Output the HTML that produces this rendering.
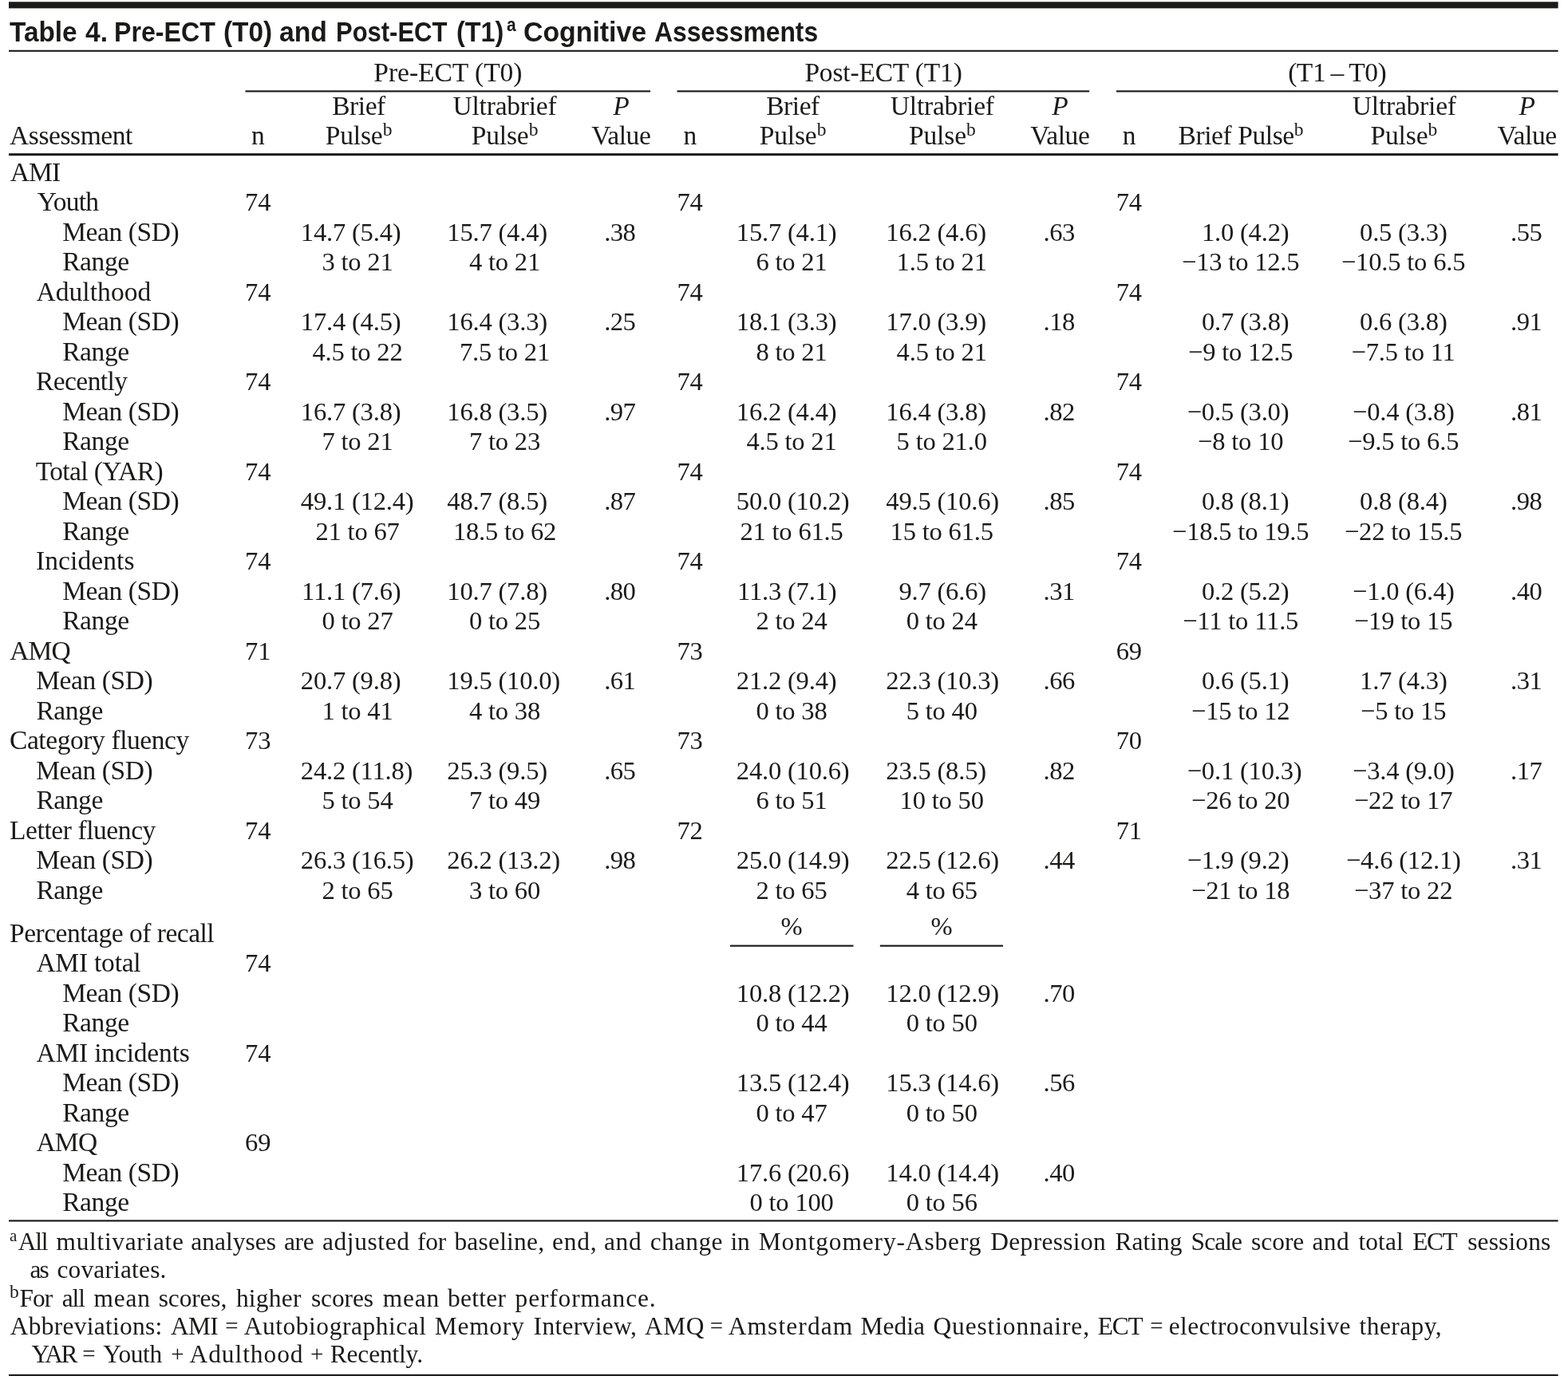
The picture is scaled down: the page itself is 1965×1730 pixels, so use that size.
<!DOCTYPE html>
<html lang="en"><head><meta charset="utf-8"><title>Table 4. Pre-ECT (T0) and Post-ECT (T1) Cognitive Assessments</title>
<style>
html,body{margin:0;padding:0;background:#fff}
body{width:1965px;height:1730px;position:relative;overflow:hidden;color:#1b1a19;
 font-family:"Liberation Serif","DejaVu Serif",serif;font-size:32.6px}
.t{position:absolute;white-space:nowrap;line-height:40px;height:40px}
.t sup{font-size:23.5px;line-height:0;vertical-align:baseline;position:relative;top:-11px;letter-spacing:0}
.f{font-size:31.4px;width:1965px;line-height:41px;height:41px}
.f span{position:absolute;top:0}
.fs{font-size:22px}
.x{font-size:33.5px}
svg.r{position:absolute;left:0;top:0}
.title{position:absolute;left:0;top:0;font-family:"Liberation Sans","DejaVu Sans",sans-serif;font-weight:bold}
.tw{position:absolute;white-space:nowrap;line-height:44px;height:44px;transform-origin:0 0;display:block}
</style></head>
<body>
<svg class="r" width="1965" height="1730" viewBox="0 0 1965 1730" fill="#1b1a19"><rect x="915.0" y="1184.62" width="154.5" height="2.15"/><rect x="1102.8" y="1184.62" width="154.2" height="2.15"/><rect x="11.0" y="2.30" width="1941.6" height="8.10"/><rect x="11.0" y="62.75" width="1941.6" height="2.10"/><rect x="307.5" y="113.33" width="507.5" height="2.15"/><rect x="848.5" y="113.33" width="516.6" height="2.15"/><rect x="1399.0" y="113.33" width="553.6" height="2.15"/><rect x="11.0" y="192.20" width="1941.6" height="3.00"/><rect x="11.0" y="1529.33" width="1941.6" height="2.15"/><rect x="11.0" y="1722.83" width="1941.6" height="2.15"/></svg>
<div class="t x" style="left:12.8px;top:196px;letter-spacing:-0.92px">AMI</div>
<div class="t x" style="left:46.8px;top:233px;letter-spacing:-0.82px">Youth</div>
<div class="t" style="left:23.2px;width:600px;text-align:center;top:233px;letter-spacing:-0.20px">74</div>
<div class="t" style="left:564.6px;width:600px;text-align:center;top:233px;letter-spacing:-0.20px">74</div>
<div class="t" style="left:1114.8px;width:600px;text-align:center;top:233px;letter-spacing:-0.20px">74</div>
<div class="t x" style="left:78.2px;top:271px;letter-spacing:-0.42px">Mean (SD)</div>
<div class="t" style="left:376.8px;top:271px;letter-spacing:-0.20px">14.7 (5.4)</div>
<div class="t" style="left:560.3px;top:271px;letter-spacing:-0.20px">15.7 (4.4)</div>
<div class="t" style="left:922.8px;top:271px;letter-spacing:-0.20px">15.7 (4.1)</div>
<div class="t" style="left:1110.3px;top:271px;letter-spacing:-0.20px">16.2 (4.6)</div>
<div class="t" style="left:1505.9px;top:271px;letter-spacing:-0.20px">1.0 (4.2)</div>
<div class="t" style="left:1458.8px;width:600px;text-align:center;top:271px;letter-spacing:-0.20px">0.5 (3.3)</div>
<div class="t" style="left:757.2px;top:271px;letter-spacing:-0.50px">.38</div>
<div class="t" style="left:1307.6px;top:271px;letter-spacing:-0.50px">.63</div>
<div class="t" style="left:1893.0px;top:271px;letter-spacing:-0.50px">.55</div>
<div class="t x" style="left:78.2px;top:308px;letter-spacing:-0.42px">Range</div>
<div class="t" style="left:148.0px;width:600px;text-align:center;top:308px;letter-spacing:-0.20px">3 to 21</div>
<div class="t" style="left:332.5px;width:600px;text-align:center;top:308px;letter-spacing:-0.20px">4 to 21</div>
<div class="t" style="left:692.0px;width:600px;text-align:center;top:308px;letter-spacing:-0.20px">6 to 21</div>
<div class="t" style="left:880.2px;width:600px;text-align:center;top:308px;letter-spacing:-0.20px">1.5 to 21</div>
<div class="t" style="left:1254.7px;width:600px;text-align:center;top:308px;letter-spacing:-0.20px">−13 to 12.5</div>
<div class="t" style="left:1458.6px;width:600px;text-align:center;top:308px;letter-spacing:-0.20px">−10.5 to 6.5</div>
<div class="t x" style="left:45.4px;top:346px;letter-spacing:0.08px">Adulthood</div>
<div class="t" style="left:23.2px;width:600px;text-align:center;top:346px;letter-spacing:-0.20px">74</div>
<div class="t" style="left:564.6px;width:600px;text-align:center;top:346px;letter-spacing:-0.20px">74</div>
<div class="t" style="left:1114.8px;width:600px;text-align:center;top:346px;letter-spacing:-0.20px">74</div>
<div class="t x" style="left:78.2px;top:383px;letter-spacing:-0.42px">Mean (SD)</div>
<div class="t" style="left:376.8px;top:383px;letter-spacing:-0.20px">17.4 (4.5)</div>
<div class="t" style="left:560.3px;top:383px;letter-spacing:-0.20px">16.4 (3.3)</div>
<div class="t" style="left:922.8px;top:383px;letter-spacing:-0.20px">18.1 (3.3)</div>
<div class="t" style="left:1110.3px;top:383px;letter-spacing:-0.20px">17.0 (3.9)</div>
<div class="t" style="left:1505.9px;top:383px;letter-spacing:-0.20px">0.7 (3.8)</div>
<div class="t" style="left:1458.8px;width:600px;text-align:center;top:383px;letter-spacing:-0.20px">0.6 (3.8)</div>
<div class="t" style="left:757.2px;top:383px;letter-spacing:-0.50px">.25</div>
<div class="t" style="left:1307.6px;top:383px;letter-spacing:-0.50px">.18</div>
<div class="t" style="left:1893.0px;top:383px;letter-spacing:-0.50px">.91</div>
<div class="t x" style="left:78.2px;top:421px;letter-spacing:-0.42px">Range</div>
<div class="t" style="left:148.0px;width:600px;text-align:center;top:421px;letter-spacing:-0.20px">4.5 to 22</div>
<div class="t" style="left:332.5px;width:600px;text-align:center;top:421px;letter-spacing:-0.20px">7.5 to 21</div>
<div class="t" style="left:692.0px;width:600px;text-align:center;top:421px;letter-spacing:-0.20px">8 to 21</div>
<div class="t" style="left:880.2px;width:600px;text-align:center;top:421px;letter-spacing:-0.20px">4.5 to 21</div>
<div class="t" style="left:1254.7px;width:600px;text-align:center;top:421px;letter-spacing:-0.20px">−9 to 12.5</div>
<div class="t" style="left:1458.6px;width:600px;text-align:center;top:421px;letter-spacing:-0.20px">−7.5 to 11</div>
<div class="t x" style="left:45.0px;top:458px;letter-spacing:-0.57px">Recently</div>
<div class="t" style="left:23.2px;width:600px;text-align:center;top:458px;letter-spacing:-0.20px">74</div>
<div class="t" style="left:564.6px;width:600px;text-align:center;top:458px;letter-spacing:-0.20px">74</div>
<div class="t" style="left:1114.8px;width:600px;text-align:center;top:458px;letter-spacing:-0.20px">74</div>
<div class="t x" style="left:78.2px;top:496px;letter-spacing:-0.42px">Mean (SD)</div>
<div class="t" style="left:376.8px;top:496px;letter-spacing:-0.20px">16.7 (3.8)</div>
<div class="t" style="left:560.3px;top:496px;letter-spacing:-0.20px">16.8 (3.5)</div>
<div class="t" style="left:922.8px;top:496px;letter-spacing:-0.20px">16.2 (4.4)</div>
<div class="t" style="left:1110.3px;top:496px;letter-spacing:-0.20px">16.4 (3.8)</div>
<div class="t" style="left:1487.7px;top:496px;letter-spacing:-0.20px">−0.5 (3.0)</div>
<div class="t" style="left:1458.8px;width:600px;text-align:center;top:496px;letter-spacing:-0.20px">−0.4 (3.8)</div>
<div class="t" style="left:757.2px;top:496px;letter-spacing:-0.50px">.97</div>
<div class="t" style="left:1307.6px;top:496px;letter-spacing:-0.50px">.82</div>
<div class="t" style="left:1893.0px;top:496px;letter-spacing:-0.50px">.81</div>
<div class="t x" style="left:78.2px;top:533px;letter-spacing:-0.42px">Range</div>
<div class="t" style="left:148.0px;width:600px;text-align:center;top:533px;letter-spacing:-0.20px">7 to 21</div>
<div class="t" style="left:332.5px;width:600px;text-align:center;top:533px;letter-spacing:-0.20px">7 to 23</div>
<div class="t" style="left:692.0px;width:600px;text-align:center;top:533px;letter-spacing:-0.20px">4.5 to 21</div>
<div class="t" style="left:880.2px;width:600px;text-align:center;top:533px;letter-spacing:-0.20px">5 to 21.0</div>
<div class="t" style="left:1254.7px;width:600px;text-align:center;top:533px;letter-spacing:-0.20px">−8 to 10</div>
<div class="t" style="left:1458.6px;width:600px;text-align:center;top:533px;letter-spacing:-0.20px">−9.5 to 6.5</div>
<div class="t x" style="left:44.7px;top:571px;letter-spacing:-0.62px">Total (YAR)</div>
<div class="t" style="left:23.2px;width:600px;text-align:center;top:571px;letter-spacing:-0.20px">74</div>
<div class="t" style="left:564.6px;width:600px;text-align:center;top:571px;letter-spacing:-0.20px">74</div>
<div class="t" style="left:1114.8px;width:600px;text-align:center;top:571px;letter-spacing:-0.20px">74</div>
<div class="t x" style="left:78.2px;top:608px;letter-spacing:-0.42px">Mean (SD)</div>
<div class="t" style="left:376.8px;top:608px;letter-spacing:-0.20px">49.1 (12.4)</div>
<div class="t" style="left:560.3px;top:608px;letter-spacing:-0.20px">48.7 (8.5)</div>
<div class="t" style="left:922.8px;top:608px;letter-spacing:-0.20px">50.0 (10.2)</div>
<div class="t" style="left:1110.3px;top:608px;letter-spacing:-0.20px">49.5 (10.6)</div>
<div class="t" style="left:1505.9px;top:608px;letter-spacing:-0.20px">0.8 (8.1)</div>
<div class="t" style="left:1458.8px;width:600px;text-align:center;top:608px;letter-spacing:-0.20px">0.8 (8.4)</div>
<div class="t" style="left:757.2px;top:608px;letter-spacing:-0.50px">.87</div>
<div class="t" style="left:1307.6px;top:608px;letter-spacing:-0.50px">.85</div>
<div class="t" style="left:1893.0px;top:608px;letter-spacing:-0.50px">.98</div>
<div class="t x" style="left:78.2px;top:646px;letter-spacing:-0.42px">Range</div>
<div class="t" style="left:148.0px;width:600px;text-align:center;top:646px;letter-spacing:-0.20px">21 to 67</div>
<div class="t" style="left:332.5px;width:600px;text-align:center;top:646px;letter-spacing:-0.20px">18.5 to 62</div>
<div class="t" style="left:692.0px;width:600px;text-align:center;top:646px;letter-spacing:-0.20px">21 to 61.5</div>
<div class="t" style="left:880.2px;width:600px;text-align:center;top:646px;letter-spacing:-0.20px">15 to 61.5</div>
<div class="t" style="left:1254.7px;width:600px;text-align:center;top:646px;letter-spacing:-0.20px">−18.5 to 19.5</div>
<div class="t" style="left:1458.6px;width:600px;text-align:center;top:646px;letter-spacing:-0.20px">−22 to 15.5</div>
<div class="t x" style="left:45.0px;top:683px;letter-spacing:0.08px">Incidents</div>
<div class="t" style="left:23.2px;width:600px;text-align:center;top:683px;letter-spacing:-0.20px">74</div>
<div class="t" style="left:564.6px;width:600px;text-align:center;top:683px;letter-spacing:-0.20px">74</div>
<div class="t" style="left:1114.8px;width:600px;text-align:center;top:683px;letter-spacing:-0.20px">74</div>
<div class="t x" style="left:78.2px;top:721px;letter-spacing:-0.42px">Mean (SD)</div>
<div class="t" style="left:378.0px;top:721px;letter-spacing:-0.20px">11.1 (7.6)</div>
<div class="t" style="left:560.3px;top:721px;letter-spacing:-0.20px">10.7 (7.8)</div>
<div class="t" style="left:924.0px;top:721px;letter-spacing:-0.20px">11.3 (7.1)</div>
<div class="t" style="left:1126.4px;top:721px;letter-spacing:-0.20px">9.7 (6.6)</div>
<div class="t" style="left:1505.9px;top:721px;letter-spacing:-0.20px">0.2 (5.2)</div>
<div class="t" style="left:1458.8px;width:600px;text-align:center;top:721px;letter-spacing:-0.20px">−1.0 (6.4)</div>
<div class="t" style="left:757.2px;top:721px;letter-spacing:-0.50px">.80</div>
<div class="t" style="left:1307.6px;top:721px;letter-spacing:-0.50px">.31</div>
<div class="t" style="left:1893.0px;top:721px;letter-spacing:-0.50px">.40</div>
<div class="t x" style="left:78.2px;top:758px;letter-spacing:-0.42px">Range</div>
<div class="t" style="left:148.0px;width:600px;text-align:center;top:758px;letter-spacing:-0.20px">0 to 27</div>
<div class="t" style="left:332.5px;width:600px;text-align:center;top:758px;letter-spacing:-0.20px">0 to 25</div>
<div class="t" style="left:692.0px;width:600px;text-align:center;top:758px;letter-spacing:-0.20px">2 to 24</div>
<div class="t" style="left:880.2px;width:600px;text-align:center;top:758px;letter-spacing:-0.20px">0 to 24</div>
<div class="t" style="left:1254.7px;width:600px;text-align:center;top:758px;letter-spacing:-0.20px">−11 to 11.5</div>
<div class="t" style="left:1458.6px;width:600px;text-align:center;top:758px;letter-spacing:-0.20px">−19 to 15</div>
<div class="t x" style="left:12.3px;top:796px;letter-spacing:-0.92px">AMQ</div>
<div class="t" style="left:23.2px;width:600px;text-align:center;top:796px;letter-spacing:-0.20px">71</div>
<div class="t" style="left:564.6px;width:600px;text-align:center;top:796px;letter-spacing:-0.20px">73</div>
<div class="t" style="left:1114.8px;width:600px;text-align:center;top:796px;letter-spacing:-0.20px">69</div>
<div class="t x" style="left:45.2px;top:833px;letter-spacing:-0.42px">Mean (SD)</div>
<div class="t" style="left:376.8px;top:833px;letter-spacing:-0.20px">20.7 (9.8)</div>
<div class="t" style="left:560.3px;top:833px;letter-spacing:-0.20px">19.5 (10.0)</div>
<div class="t" style="left:922.8px;top:833px;letter-spacing:-0.20px">21.2 (9.4)</div>
<div class="t" style="left:1110.3px;top:833px;letter-spacing:-0.20px">22.3 (10.3)</div>
<div class="t" style="left:1505.9px;top:833px;letter-spacing:-0.20px">0.6 (5.1)</div>
<div class="t" style="left:1458.8px;width:600px;text-align:center;top:833px;letter-spacing:-0.20px">1.7 (4.3)</div>
<div class="t" style="left:757.2px;top:833px;letter-spacing:-0.50px">.61</div>
<div class="t" style="left:1307.6px;top:833px;letter-spacing:-0.50px">.66</div>
<div class="t" style="left:1893.0px;top:833px;letter-spacing:-0.50px">.31</div>
<div class="t x" style="left:45.4px;top:871px;letter-spacing:-0.42px">Range</div>
<div class="t" style="left:148.0px;width:600px;text-align:center;top:871px;letter-spacing:-0.20px">1 to 41</div>
<div class="t" style="left:332.5px;width:600px;text-align:center;top:871px;letter-spacing:-0.20px">4 to 38</div>
<div class="t" style="left:692.0px;width:600px;text-align:center;top:871px;letter-spacing:-0.20px">0 to 38</div>
<div class="t" style="left:880.2px;width:600px;text-align:center;top:871px;letter-spacing:-0.20px">5 to 40</div>
<div class="t" style="left:1254.7px;width:600px;text-align:center;top:871px;letter-spacing:-0.20px">−15 to 12</div>
<div class="t" style="left:1458.6px;width:600px;text-align:center;top:871px;letter-spacing:-0.20px">−5 to 15</div>
<div class="t x" style="left:12.0px;top:908px;letter-spacing:-0.42px">Category fluency</div>
<div class="t" style="left:23.2px;width:600px;text-align:center;top:908px;letter-spacing:-0.20px">73</div>
<div class="t" style="left:564.6px;width:600px;text-align:center;top:908px;letter-spacing:-0.20px">73</div>
<div class="t" style="left:1114.8px;width:600px;text-align:center;top:908px;letter-spacing:-0.20px">70</div>
<div class="t x" style="left:45.2px;top:946px;letter-spacing:-0.42px">Mean (SD)</div>
<div class="t" style="left:376.8px;top:946px;letter-spacing:-0.20px">24.2 (11.8)</div>
<div class="t" style="left:560.3px;top:946px;letter-spacing:-0.20px">25.3 (9.5)</div>
<div class="t" style="left:922.8px;top:946px;letter-spacing:-0.20px">24.0 (10.6)</div>
<div class="t" style="left:1110.3px;top:946px;letter-spacing:-0.20px">23.5 (8.5)</div>
<div class="t" style="left:1487.7px;top:946px;letter-spacing:-0.20px">−0.1 (10.3)</div>
<div class="t" style="left:1458.8px;width:600px;text-align:center;top:946px;letter-spacing:-0.20px">−3.4 (9.0)</div>
<div class="t" style="left:757.2px;top:946px;letter-spacing:-0.50px">.65</div>
<div class="t" style="left:1307.6px;top:946px;letter-spacing:-0.50px">.82</div>
<div class="t" style="left:1893.0px;top:946px;letter-spacing:-0.50px">.17</div>
<div class="t x" style="left:45.4px;top:983px;letter-spacing:-0.42px">Range</div>
<div class="t" style="left:148.0px;width:600px;text-align:center;top:983px;letter-spacing:-0.20px">5 to 54</div>
<div class="t" style="left:332.5px;width:600px;text-align:center;top:983px;letter-spacing:-0.20px">7 to 49</div>
<div class="t" style="left:692.0px;width:600px;text-align:center;top:983px;letter-spacing:-0.20px">6 to 51</div>
<div class="t" style="left:880.2px;width:600px;text-align:center;top:983px;letter-spacing:-0.20px">10 to 50</div>
<div class="t" style="left:1254.7px;width:600px;text-align:center;top:983px;letter-spacing:-0.20px">−26 to 20</div>
<div class="t" style="left:1458.6px;width:600px;text-align:center;top:983px;letter-spacing:-0.20px">−22 to 17</div>
<div class="t x" style="left:12.0px;top:1021px;letter-spacing:-0.42px">Letter fluency</div>
<div class="t" style="left:23.2px;width:600px;text-align:center;top:1021px;letter-spacing:-0.20px">74</div>
<div class="t" style="left:564.6px;width:600px;text-align:center;top:1021px;letter-spacing:-0.20px">72</div>
<div class="t" style="left:1114.8px;width:600px;text-align:center;top:1021px;letter-spacing:-0.20px">71</div>
<div class="t x" style="left:45.2px;top:1058px;letter-spacing:-0.42px">Mean (SD)</div>
<div class="t" style="left:376.8px;top:1058px;letter-spacing:-0.20px">26.3 (16.5)</div>
<div class="t" style="left:560.3px;top:1058px;letter-spacing:-0.20px">26.2 (13.2)</div>
<div class="t" style="left:922.8px;top:1058px;letter-spacing:-0.20px">25.0 (14.9)</div>
<div class="t" style="left:1110.3px;top:1058px;letter-spacing:-0.20px">22.5 (12.6)</div>
<div class="t" style="left:1487.7px;top:1058px;letter-spacing:-0.20px">−1.9 (9.2)</div>
<div class="t" style="left:1458.8px;width:600px;text-align:center;top:1058px;letter-spacing:-0.20px">−4.6 (12.1)</div>
<div class="t" style="left:757.2px;top:1058px;letter-spacing:-0.50px">.98</div>
<div class="t" style="left:1307.6px;top:1058px;letter-spacing:-0.50px">.44</div>
<div class="t" style="left:1893.0px;top:1058px;letter-spacing:-0.50px">.31</div>
<div class="t x" style="left:45.4px;top:1096px;letter-spacing:-0.42px">Range</div>
<div class="t" style="left:148.0px;width:600px;text-align:center;top:1096px;letter-spacing:-0.20px">2 to 65</div>
<div class="t" style="left:332.5px;width:600px;text-align:center;top:1096px;letter-spacing:-0.20px">3 to 60</div>
<div class="t" style="left:692.0px;width:600px;text-align:center;top:1096px;letter-spacing:-0.20px">2 to 65</div>
<div class="t" style="left:880.2px;width:600px;text-align:center;top:1096px;letter-spacing:-0.20px">4 to 65</div>
<div class="t" style="left:1254.7px;width:600px;text-align:center;top:1096px;letter-spacing:-0.20px">−21 to 18</div>
<div class="t" style="left:1458.6px;width:600px;text-align:center;top:1096px;letter-spacing:-0.20px">−37 to 22</div>
<div class="t x" style="left:12.0px;top:1150px;letter-spacing:-0.49px">Percentage of recall</div>
<div class="t x" style="left:45.4px;top:1187px;letter-spacing:-0.22px">AMI total</div>
<div class="t" style="left:23.2px;width:600px;text-align:center;top:1187px;letter-spacing:-0.20px">74</div>
<div class="t x" style="left:78.2px;top:1225px;letter-spacing:-0.42px">Mean (SD)</div>
<div class="t" style="left:922.8px;top:1225px;letter-spacing:-0.20px">10.8 (12.2)</div>
<div class="t" style="left:1110.3px;top:1225px;letter-spacing:-0.20px">12.0 (12.9)</div>
<div class="t" style="left:1307.6px;top:1225px;letter-spacing:-0.50px">.70</div>
<div class="t x" style="left:78.2px;top:1262px;letter-spacing:-0.42px">Range</div>
<div class="t" style="left:692.0px;width:600px;text-align:center;top:1262px;letter-spacing:-0.20px">0 to 44</div>
<div class="t" style="left:880.2px;width:600px;text-align:center;top:1262px;letter-spacing:-0.20px">0 to 50</div>
<div class="t x" style="left:45.4px;top:1300px;letter-spacing:-0.17px">AMI incidents</div>
<div class="t" style="left:23.2px;width:600px;text-align:center;top:1300px;letter-spacing:-0.20px">74</div>
<div class="t x" style="left:78.2px;top:1337px;letter-spacing:-0.42px">Mean (SD)</div>
<div class="t" style="left:922.8px;top:1337px;letter-spacing:-0.20px">13.5 (12.4)</div>
<div class="t" style="left:1110.3px;top:1337px;letter-spacing:-0.20px">15.3 (14.6)</div>
<div class="t" style="left:1307.6px;top:1337px;letter-spacing:-0.50px">.56</div>
<div class="t x" style="left:78.2px;top:1375px;letter-spacing:-0.42px">Range</div>
<div class="t" style="left:692.0px;width:600px;text-align:center;top:1375px;letter-spacing:-0.20px">0 to 47</div>
<div class="t" style="left:880.2px;width:600px;text-align:center;top:1375px;letter-spacing:-0.20px">0 to 50</div>
<div class="t x" style="left:45.4px;top:1412px;letter-spacing:-0.72px">AMQ</div>
<div class="t" style="left:23.2px;width:600px;text-align:center;top:1412px;letter-spacing:-0.20px">69</div>
<div class="t x" style="left:78.2px;top:1450px;letter-spacing:-0.42px">Mean (SD)</div>
<div class="t" style="left:922.8px;top:1450px;letter-spacing:-0.20px">17.6 (20.6)</div>
<div class="t" style="left:1110.3px;top:1450px;letter-spacing:-0.20px">14.0 (14.4)</div>
<div class="t" style="left:1307.6px;top:1450px;letter-spacing:-0.50px">.40</div>
<div class="t x" style="left:78.2px;top:1487px;letter-spacing:-0.42px">Range</div>
<div class="t" style="left:692.0px;width:600px;text-align:center;top:1487px;letter-spacing:-0.20px">0 to 100</div>
<div class="t" style="left:880.2px;width:600px;text-align:center;top:1487px;letter-spacing:-0.20px">0 to 56</div>
<div class="t" style="left:692.2px;width:600px;text-align:center;top:1141px">%</div>
<div class="t" style="left:880.0px;width:600px;text-align:center;top:1141px">%</div>
<div class="t x" style="left:261.4px;width:600px;text-align:center;top:71px;letter-spacing:-0.02px">Pre-ECT (T0)</div>
<div class="t x" style="left:807.0px;width:600px;text-align:center;top:71px;letter-spacing:-0.17px">Post-ECT (T1)</div>
<div class="t x" style="left:1375.7px;width:600px;text-align:center;top:71px;letter-spacing:-0.42px">(T1 – T0)</div>
<div class="t x" style="left:12.0px;top:150px;letter-spacing:-0.42px">Assessment</div>
<div class="t x" style="left:23.2px;width:600px;text-align:center;top:150px;letter-spacing:-0.42px">n</div>
<div class="t x" style="left:564.6px;width:600px;text-align:center;top:150px;letter-spacing:-0.42px">n</div>
<div class="t x" style="left:1114.8px;width:600px;text-align:center;top:150px;letter-spacing:-0.42px">n</div>
<div class="t x" style="left:149.5px;width:600px;text-align:center;top:113px;letter-spacing:-0.42px">Brief</div>
<div class="t x" style="left:149.5px;width:600px;text-align:center;top:150px;letter-spacing:-0.12px">Pulse<sup>b</sup></div>
<div class="t x" style="left:332.5px;width:600px;text-align:center;top:113px;letter-spacing:-0.22px">Ultrabrief</div>
<div class="t x" style="left:332.5px;width:600px;text-align:center;top:150px;letter-spacing:-0.12px">Pulse<sup>b</sup></div>
<div class="t x" style="left:478.3px;width:600px;text-align:center;top:113px;letter-spacing:-0.42px"><i>P</i></div>
<div class="t x" style="left:478.3px;width:600px;text-align:center;top:150px;letter-spacing:-0.42px">Value</div>
<div class="t x" style="left:693.5px;width:600px;text-align:center;top:113px;letter-spacing:-0.42px">Brief</div>
<div class="t x" style="left:693.5px;width:600px;text-align:center;top:150px;letter-spacing:-0.12px">Pulse<sup>b</sup></div>
<div class="t x" style="left:880.8px;width:600px;text-align:center;top:113px;letter-spacing:-0.22px">Ultrabrief</div>
<div class="t x" style="left:880.8px;width:600px;text-align:center;top:150px;letter-spacing:-0.12px">Pulse<sup>b</sup></div>
<div class="t x" style="left:1028.3px;width:600px;text-align:center;top:113px;letter-spacing:-0.42px"><i>P</i></div>
<div class="t x" style="left:1028.3px;width:600px;text-align:center;top:150px;letter-spacing:-0.42px">Value</div>
<div class="t x" style="left:1255.0px;width:600px;text-align:center;top:150px;letter-spacing:-0.42px">Brief Pulse<sup>b</sup></div>
<div class="t x" style="left:1459.8px;width:600px;text-align:center;top:113px;letter-spacing:-0.22px">Ultrabrief</div>
<div class="t x" style="left:1459.3px;width:600px;text-align:center;top:150px;letter-spacing:-0.12px">Pulse<sup>b</sup></div>
<div class="t x" style="left:1613.6px;width:600px;text-align:center;top:113px;letter-spacing:-0.42px"><i>P</i></div>
<div class="t x" style="left:1613.6px;width:600px;text-align:center;top:150px;letter-spacing:-0.42px">Value</div>
<div class="title">
<span class="tw" style="left:11.6px;top:17.7px;font-size:35.2px;transform:scaleX(0.9470)">Table</span>
<span class="tw" style="left:107.0px;top:17.7px;font-size:35.2px;transform:scaleX(0.9538)">4.</span>
<span class="tw" style="left:142.8px;top:17.7px;font-size:35.2px;transform:scaleX(0.9131)">Pre-ECT</span>
<span class="tw" style="left:279.5px;top:17.7px;font-size:35.2px;transform:scaleX(0.9470)">(T0)</span>
<span class="tw" style="left:350.0px;top:17.7px;font-size:35.2px;transform:scaleX(0.9587)">and</span>
<span class="tw" style="left:420.6px;top:17.7px;font-size:35.2px;transform:scaleX(0.8801)">Post-ECT</span>
<span class="tw" style="left:572.0px;top:17.7px;font-size:35.2px;transform:scaleX(0.9175)">(T1)</span>
<span class="tw" style="left:634.8px;top:8.7px;font-size:24.0px;transform:scaleX(0.8733)">a</span>
<span class="tw" style="left:656.4px;top:17.7px;font-size:35.2px;transform:scaleX(0.9615)">Cognitive</span>
<span class="tw" style="left:819.8px;top:17.7px;font-size:35.2px;transform:scaleX(0.9041)">Assessments</span>
</div>
<div class="t fs" style="left:12.0px;font-size:21.0px;top:1528.6px">a</div>
<div class="t f" style="left:0;top:1536px"><span style="left:22.8px;letter-spacing:-1.21px">All</span> <span style="left:70.5px;letter-spacing:0.71px">multivariate</span> <span style="left:239.2px;letter-spacing:0.06px">analyses</span> <span style="left:356.0px;letter-spacing:-0.32px">are</span> <span style="left:404.0px;letter-spacing:0.62px">adjusted</span> <span style="left:523.0px;letter-spacing:-0.16px">for</span> <span style="left:569.4px;letter-spacing:0.24px">baseline,</span> <span style="left:692.0px;letter-spacing:0.77px">end,</span> <span style="left:756.9px;letter-spacing:0.68px">and</span> <span style="left:814.7px;letter-spacing:0.36px">change</span> <span style="left:915.4px;letter-spacing:-0.23px">in</span> <span style="left:950.7px;letter-spacing:0.89px">Montgomery-Asberg</span> <span style="left:1241.3px;letter-spacing:0.35px">Depression</span> <span style="left:1397.5px;letter-spacing:0.05px">Rating</span> <span style="left:1492.6px;letter-spacing:-0.90px">Scale</span> <span style="left:1568.1px;letter-spacing:-0.01px">score</span> <span style="left:1644.4px;letter-spacing:0.48px">and</span> <span style="left:1702.5px;letter-spacing:0.08px">total</span> <span style="left:1770.3px;letter-spacing:-1.41px">ECT</span> <span style="left:1839.2px;letter-spacing:0.17px">sessions</span></div>
<div class="t f" style="left:0;top:1571px"><span style="left:37.4px;letter-spacing:-1.76px">as</span> <span style="left:71.5px;letter-spacing:0.18px">covariates.</span></div>
<div class="t fs" style="left:12.0px;font-size:23.5px;top:1598.8px">b</div>
<div class="t f" style="left:0;top:1607px"><span style="left:24.4px;letter-spacing:-0.86px">For</span> <span style="left:77.8px;letter-spacing:-1.15px">all</span> <span style="left:117.6px;letter-spacing:0.83px">mean</span> <span style="left:198.8px;letter-spacing:-0.14px">scores,</span> <span style="left:295.9px;letter-spacing:0.27px">higher</span> <span style="left:389.9px;letter-spacing:-0.05px">scores</span> <span style="left:479.7px;letter-spacing:0.83px">mean</span> <span style="left:560.9px;letter-spacing:0.33px">better</span> <span style="left:645.6px;letter-spacing:0.87px">performance.</span></div>
<div class="t f" style="left:0;top:1642px"><span style="left:12.8px;letter-spacing:0.29px">Abbreviations:</span> <span style="left:214.0px;letter-spacing:-0.62px">AMI</span> <span style="left:282.2px;font-size:29.0px">=</span> <span style="left:305.7px;letter-spacing:0.58px">Autobiographical</span> <span style="left:544.8px;letter-spacing:0.75px">Memory</span> <span style="left:668.6px;letter-spacing:0.35px">Interview,</span> <span style="left:808.0px;letter-spacing:0.61px">AMQ</span> <span style="left:889.7px;font-size:29.0px">=</span> <span style="left:912.8px;letter-spacing:1.12px">Amsterdam</span> <span style="left:1078.4px;letter-spacing:0.09px">Media</span> <span style="left:1169.5px;letter-spacing:0.89px">Questionnaire,</span> <span style="left:1375.7px;letter-spacing:-1.11px">ECT</span> <span style="left:1441.3px;font-size:29.0px">=</span> <span style="left:1464.7px;letter-spacing:0.40px">electroconvulsive</span> <span style="left:1703.6px;letter-spacing:0.45px">therapy,</span></div>
<div class="t f" style="left:0;top:1677px"><span style="left:39.6px;letter-spacing:-2.52px">YAR</span> <span style="left:103.3px;font-size:29.0px">=</span> <span style="left:129.3px;letter-spacing:-0.37px">Youth</span> <span style="left:214.3px;font-size:29.0px">+</span> <span style="left:237.5px;letter-spacing:0.97px">Adulthood</span> <span style="left:389.1px;font-size:29.0px">+</span> <span style="left:413.8px;letter-spacing:-0.15px">Recently.</span></div>
</body></html>
